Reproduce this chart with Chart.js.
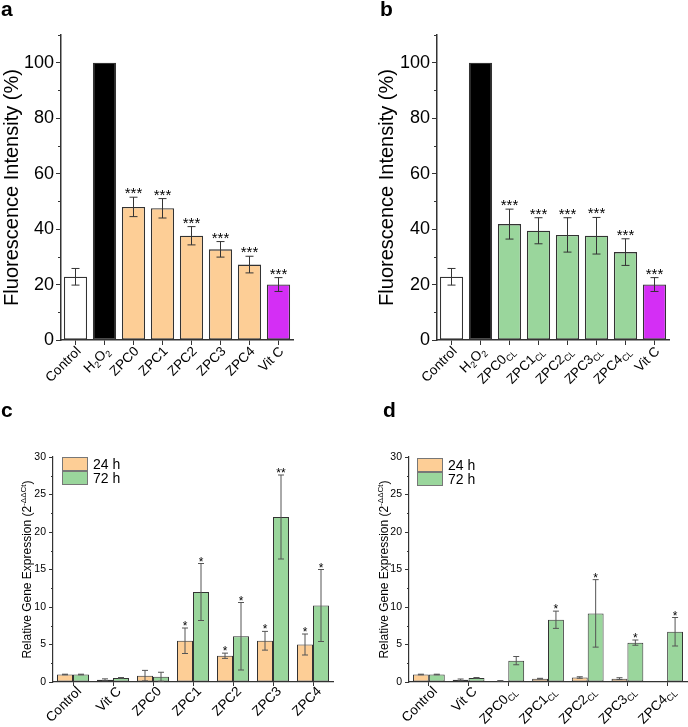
<!DOCTYPE html>
<html>
<head>
<meta charset="utf-8">
<script src="https://cdn.jsdelivr.net/npm/chart.js@4.4.0/dist/chart.umd.min.js"></script>
<style>
  body { margin: 0; background: #fff; }
  #fig { position: relative; width: 688px; height: 727px; font-family: "Liberation Sans", Arial, sans-serif; }
  #fig canvas { position: absolute; }
  .tag { position: absolute; font-weight: bold; font-size: 21px; line-height: 1; }
  .legend { position: absolute; font-size: 14px; line-height: 14px; }
  .legend .row { display: flex; align-items: center; height: 14px; }
  .legend .box { width: 24px; height: 12px; border: 1px solid #777; margin-right: 5px; }
</style>
</head>
<body>
<div id="fig">
  <canvas id="chartA" width="344" height="400" style="left:0;top:0"></canvas>
  <canvas id="chartB" width="344" height="400" style="left:344px;top:0"></canvas>
  <canvas id="chartC" width="344" height="327" style="left:0;top:400px"></canvas>
  <canvas id="chartD" width="344" height="327" style="left:344px;top:400px"></canvas>
  <div class="tag" style="left:1px;top:-2px">a</div>
  <div class="tag" style="left:380px;top:-2px">b</div>
  <div class="tag" style="left:1px;top:399px">c</div>
  <div class="tag" style="left:383px;top:399px">d</div>
  <div class="legend" style="left:62px;top:457px">
    <div class="row"><span class="box" style="background:#FDCE96"></span>24 h</div>
    <div class="row"><span class="box" style="background:#9AD69C"></span>72 h</div>
  </div>
  <div class="legend" style="left:417px;top:458px">
    <div class="row"><span class="box" style="background:#FDCE96"></span>24 h</div>
    <div class="row"><span class="box" style="background:#9AD69C"></span>72 h</div>
  </div>
</div>
<script>
// --- data ---
const fluoLabelsA = ['Control', 'H_{2}O_{2}', 'ZPC0', 'ZPC1', 'ZPC2', 'ZPC3', 'ZPC4', 'Vit C'];
const fluoValuesA = [22.8, 100, 48.0, 47.5, 37.6, 32.7, 27.2, 20.0];
const fluoErrorsA = [3.0, 0, 3.5, 3.5, 3.3, 2.8, 3.0, 2.5];
const fluoStarsA  = ['', '', '***', '***', '***', '***', '***', '***'];

const fluoLabelsB = ['Control', 'H_{2}O_{2}', 'ZPC0_{CL}', 'ZPC1_{CL}', 'ZPC2_{CL}', 'ZPC3_{CL}', 'ZPC4_{CL}', 'Vit C'];
const fluoValuesB = [22.8, 100, 41.8, 39.4, 37.9, 37.6, 31.7, 20.0];
const fluoErrorsB = [3.0, 0, 5.4, 4.7, 6.2, 6.6, 4.8, 2.5];
const fluoStarsB  = ['', '', '***', '***', '***', '***', '***', '***'];

const fluoColorsA = ['#ffffff', '#000000', '#FDCE96', '#FDCE96', '#FDCE96', '#FDCE96', '#FDCE96', '#D42EF5'];
const fluoColorsB = ['#ffffff', '#000000', '#9AD69C', '#9AD69C', '#9AD69C', '#9AD69C', '#9AD69C', '#D42EF5'];

const geneLabelsC = ['Control', 'Vit C', 'ZPC0', 'ZPC1', 'ZPC2', 'ZPC3', 'ZPC4'];
const gene24C     = [1.0, 0.3, 0.85, 5.5, 3.5, 5.5, 5.0];
const gene24ErrC  = [0.04, 0.12, 0.7, 1.7, 0.35, 1.25, 1.4];
const gene72C     = [1.0, 0.55, 0.7, 12.0, 6.1, 22.0, 10.2];
const gene72ErrC  = [0.04, 0.05, 0.6, 3.8, 4.5, 5.6, 4.8];
const stars24C    = ['', '', '', '*', '*', '*', '*'];
const stars72C    = ['', '', '', '*', '*', '**', '*'];

const geneLabelsD = ['Control', 'Vit C', 'ZPC0_{CL}', 'ZPC1_{CL}', 'ZPC2_{CL}', 'ZPC3_{CL}', 'ZPC4_{CL}'];
const gene24D     = [1.0, 0.3, 0.15, 0.45, 0.6, 0.45, null];
const gene24ErrD  = [0.04, 0.1, 0.03, 0.04, 0.1, 0.12, 0];
const gene72D     = [1.0, 0.55, 2.85, 8.3, 9.15, 5.25, 6.7];
const gene72ErrD  = [0.04, 0.05, 0.55, 1.15, 4.5, 0.35, 1.9];
const stars24D    = ['', '', '', '', '', '', ''];
const stars72D    = ['', '', '', '*', '*', '*', '*'];

const FONT = '"Liberation Sans", Arial, sans-serif';

// split 'H_{2}O_{2}' into normal / subscript / superscript runs
function richParts(str) {
  const parts = [];
  const re = /([_^])\{([^}]*)\}/g;
  let last = 0, m;
  while ((m = re.exec(str))) {
    if (m.index > last) parts.push({ t: str.slice(last, m.index) });
    parts.push({ t: m[2], sub: m[1] === '_', sup: m[1] === '^' });
    last = re.lastIndex;
  }
  if (last < str.length) parts.push({ t: str.slice(last) });
  return parts;
}

function drawRich(ctx, str, size, align) {
  const parts = richParts(str);
  const small = Math.round(size * 0.66);
  let w = 0;
  parts.forEach(p => {
    ctx.font = (p.sub || p.sup ? small : size) + 'px ' + FONT;
    p.w = ctx.measureText(p.t).width;
    w += p.w;
  });
  let x = align === 'right' ? -w : align === 'center' ? -w / 2 : 0;
  ctx.textBaseline = 'alphabetic';
  ctx.textAlign = 'left';
  parts.forEach(p => {
    ctx.font = (p.sub || p.sup ? small : size) + 'px ' + FONT;
    const dy = p.sub ? size * 0.22 : p.sup ? -size * 0.42 : 0;
    ctx.fillText(p.t, x, dy);
    x += p.w;
  });
}

const richTicks = {
  id: 'richTicks',
  afterDraw(chart, args, opts) {
    const ctx = chart.ctx, xs = chart.scales.x;
    ctx.save();
    ctx.fillStyle = '#000';
    chart.data.labels.forEach((lab, i) => {
      ctx.save();
      ctx.translate(xs.getPixelForTick(i) + opts.dx, xs.top + opts.dy);
      ctx.rotate(-Math.PI / 4);
      drawRich(ctx, lab, opts.size, 'right');
      ctx.restore();
    });
    ctx.restore();
  }
};

const richTitle = {
  id: 'richTitle',
  afterDraw(chart, args, opts) {
    if (!opts.text) return;
    const ctx = chart.ctx;
    ctx.save();
    ctx.fillStyle = '#000';
    ctx.translate(opts.x, (chart.chartArea.top + chart.chartArea.bottom) / 2);
    ctx.rotate(-Math.PI / 2);
    drawRich(ctx, opts.text, opts.size, 'center');
    ctx.restore();
  }
};

const errorBars = {
  id: 'errorBars',
  afterDatasetsDraw(chart, args, opts) {
    const ctx = chart.ctx, ys = chart.scales.y;
    ctx.save();
    chart.data.datasets.forEach((ds, di) => {
      const meta = chart.getDatasetMeta(di);
      meta.data.forEach((bar, i) => {
        const v = ds.data[i];
        if (v == null) return;
        const e = ds.errors ? ds.errors[i] : 0;
        const top = ys.getPixelForValue(v + e);
        const bot = ys.getPixelForValue(v - e);
        if (e > 0) {
          ctx.strokeStyle = opts.color;
          ctx.lineWidth = 1;
          ctx.beginPath();
          ctx.moveTo(bar.x, top); ctx.lineTo(bar.x, bot);
          ctx.moveTo(bar.x - opts.cap / 2, top); ctx.lineTo(bar.x + opts.cap / 2, top);
          ctx.moveTo(bar.x - opts.cap / 2, bot); ctx.lineTo(bar.x + opts.cap / 2, bot);
          ctx.stroke();
        }
        const s = ds.stars && ds.stars[i];
        if (s) {
          ctx.fillStyle = '#000';
          ctx.font = opts.starSize + 'px ' + FONT;
          ctx.textAlign = 'center';
          ctx.textBaseline = 'alphabetic';
          ctx.fillText(s, bar.x, top + opts.starDy);
        }
      });
    });
    ctx.restore();
  }
};

const minorTicks = {
  id: 'minorTicks',
  afterDraw(chart, args, opts) {
    const ys = chart.scales.y, ctx = chart.ctx;
    ctx.save();
    ctx.strokeStyle = '#333';
    ctx.lineWidth = 1;
    for (let v = opts.start; v <= ys.max + 1e-9; v += opts.step) {
      const y = Math.round(ys.getPixelForValue(v)) + 0.5;
      ctx.beginPath();
      ctx.moveTo(ys.right, y);
      ctx.lineTo(ys.right - opts.length, y);
      ctx.stroke();
    }
    ctx.restore();
  }
};

function fluoChart(id, labels, values, errors, stars, colors, padLeft, yWidth, padRight) {
  return new Chart(document.getElementById(id), {
    type: 'bar',
    data: {
      labels: labels,
      datasets: [{
        data: values,
        errors: errors,
        stars: stars,
        backgroundColor: colors,
        borderColor: '#333',
        borderWidth: 1.3,
        borderSkipped: false,
        barPercentage: 0.8,
        categoryPercentage: 1.0
      }]
    },
    options: {
      responsive: false,
      animation: false,
      layout: { padding: { left: padLeft, top: 35, right: padRight, bottom: 0 } },
      plugins: {
        legend: { display: false },
        tooltip: { enabled: false },
        errorBars: { color: '#333', cap: 8, starSize: 15, starDy: 1 },
        minorTicks: { start: 10, step: 20, length: 3 },
        richTicks: { size: 13.5, dx: 6, dy: 12 }
      },
      scales: {
        x: {
          offset: true,
          grid: { offset: false, drawOnChartArea: false, tickLength: 5, color: '#333' },
          border: { color: '#333', width: 1.5 },
          ticks: { display: false },
          afterFit: s => { s.height = 60; }
        },
        y: {
          min: 0,
          max: 110,
          afterBuildTicks: s => { s.ticks = s.ticks.filter(t => t.value % 20 === 0); },
          ticks: { stepSize: 20, color: '#000', padding: 2, font: { size: 18, family: FONT } },
          grid: { drawOnChartArea: false, tickLength: 5, color: '#333' },
          border: { color: '#333', width: 1.5 },
          title: { display: true, text: 'Fluorescence Intensity (%)', color: '#000', padding: 0, font: { size: 20, family: FONT } },
          afterFit: s => { s.width = yWidth; }
        }
      }
    },
    plugins: [errorBars, minorTicks, richTicks]
  });
}

function geneChart(id, labels, v24, e24, s24, v72, e72, s72, yWidth, padRight, titleX) {
  return new Chart(document.getElementById(id), {
    type: 'bar',
    data: {
      labels: labels,
      datasets: [
        { label: '24 h', data: v24, errors: e24, stars: s24, backgroundColor: '#FDCE96', borderColor: '#333', borderWidth: 1, borderSkipped: false },
        { label: '72 h', data: v72, errors: e72, stars: s72, backgroundColor: '#9AD69C', borderColor: '#333', borderWidth: 1, borderSkipped: false }
      ]
    },
    options: {
      responsive: false,
      animation: false,
      datasets: { bar: { barPercentage: 1.0, categoryPercentage: 0.8 } },
      layout: { padding: { left: 0, top: 57, right: padRight, bottom: 0 } },
      plugins: {
        legend: { display: false },
        tooltip: { enabled: false },
        errorBars: { color: '#555', cap: 6, starSize: 12, starDy: 2 },
        minorTicks: { start: 2.5, step: 5, length: 2 },
        richTicks: { size: 13.5, dx: 9, dy: 10 },
        richTitle: { text: 'Relative Gene Expression (2^{-ΔΔCt})', size: 12, x: titleX }
      },
      scales: {
        x: {
          offset: true,
          grid: { offset: false, drawOnChartArea: false, tickLength: 4, color: '#333' },
          border: { color: '#333', width: 1.2 },
          ticks: { display: false },
          afterFit: s => { s.height = 45; }
        },
        y: {
          min: 0,
          max: 30,
          ticks: { stepSize: 5, color: '#000', padding: 3, font: { size: 10.5, family: FONT } },
          grid: { drawOnChartArea: false, tickLength: 4, color: '#333' },
          border: { color: '#333', width: 1.2 },
          afterFit: s => { s.width = yWidth; }
        }
      }
    },
    plugins: [errorBars, minorTicks, richTicks, richTitle]
  });
}

fluoChart('chartA', fluoLabelsA, fluoValuesA, fluoErrorsA, fluoStarsA, fluoColorsA, 0, 61, 51);
fluoChart('chartB', fluoLabelsB, fluoValuesB, fluoErrorsB, fluoStarsB, fluoColorsB, 31, 62, 19);
geneChart('chartC', geneLabelsC, gene24C, gene24ErrC, stars24C, gene72C, gene72ErrC, stars72C, 53, 11, 31);
geneChart('chartD', geneLabelsD, gene24D, gene24ErrD, stars24D, gene72D, gene72ErrD, stars72D, 65, 1, 44);
</script>
</body>
</html>
